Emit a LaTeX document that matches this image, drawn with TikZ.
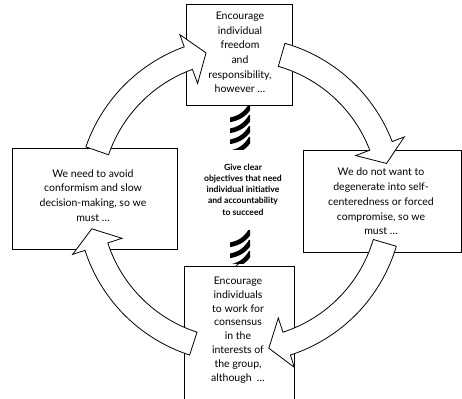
\documentclass[tikz,border=0pt]{standalone}
\usepackage{fontspec}
\setmainfont{Lato}
\begin{document}
\begin{tikzpicture}[x=1pt,y=1pt,
  box/.style={draw=black, line width=0.7pt, fill=white},
  loop arrow/.style={draw=black, line width=0.8pt, fill=white, line join=miter},
  txt/.style={align=center, font=\fontsize{10.5}{14.7}\selectfont, inner sep=0pt},
  core/.style={align=center, font=\bfseries\fontsize{8.6}{11.3}\selectfont, inner sep=0pt},
  stripe/.style={line width=4.6pt, line cap=butt}]
\useasboundingbox (0,0) rectangle (462,398);

% the four boxes
\draw[box] (186,293) rectangle (292,394);
\draw[box] (12,149) rectangle (177,250);
\draw[box] (303,146) rectangle (461,248);
\draw[line width=0.7pt] (184,-2) -- (184,132) -- (294,132) -- (294,-2);

% curved block arrows running clockwise round the centre
\begin{scope}[shift={(240,198)}]
  \path[loop arrow] (161:163pt) arc[start angle=161,end angle=110,radius=163pt]
    -- (110:176pt) -- (103:151pt) -- (110:124pt) -- (110:139pt)
    arc[start angle=110,end angle=161,radius=139pt] -- cycle;
  \path[loop arrow] (74:163pt) arc[start angle=74,end angle=21,radius=163pt]
    -- (21:176pt) -- (14:151pt) -- (21:124pt) -- (21:139pt)
    arc[start angle=21,end angle=74,radius=139pt] -- cycle;
  \path[loop arrow] (-16.5:163pt) arc[start angle=-16.5,end angle=-72,radius=163pt]
    -- (-72:176pt) -- (-79:151pt) -- (-72:124pt) -- (-72:139pt)
    arc[start angle=-72,end angle=-16.5,radius=139pt] -- cycle;
  \path[loop arrow] (252:163pt) arc[start angle=252,end angle=198,radius=163pt]
    -- (198:176pt) -- (191:151pt) -- (198:124pt) -- (198:139pt)
    arc[start angle=198,end angle=252,radius=139pt] -- cycle;
\end{scope}

% twisted links between the centre and the top and bottom boxes
\begin{scope}
  \clip (230,248) rectangle (250,292);
  \foreach \y in {286,275,264,253} \draw[stripe] (229,\y-8) to[bend right=25] (251,\y+7);
\end{scope}
\begin{scope}
  \clip (230,134) rectangle (250,167);
  \foreach \y in {161,150,139} \draw[stripe] (229,\y-8) to[bend right=25] (251,\y+7);
\end{scope}
\draw[line width=0.8pt] (236,132) -- (242,137);

% texts
\node[txt] (top) at (240,345.5) {Encourage\\individual\\freedom\\and\\responsibility,\\however \dots};
\node[txt] (left) at (93,202.5) {We need to avoid\\conformism and slow\\decision-making, so we\\must \dots};
\node[txt] (right) at (381,196.5) {We do not want to\\degenerate into self-\\centeredness or forced\\compromise, so we\\must \dots};
\node[txt, font=\fontsize{10.5}{13.8}\selectfont] (bottom) at (238,68) {Encourage\\individuals\\to work for\\consensus\\in the\\interests of\\the group,\\although\enspace\dots};
\node[core] (centre) at (243,208.5) {Give clear\\objectives that need\\individual initiative\\and accountability\\to succeed};
\end{tikzpicture}
\end{document}
